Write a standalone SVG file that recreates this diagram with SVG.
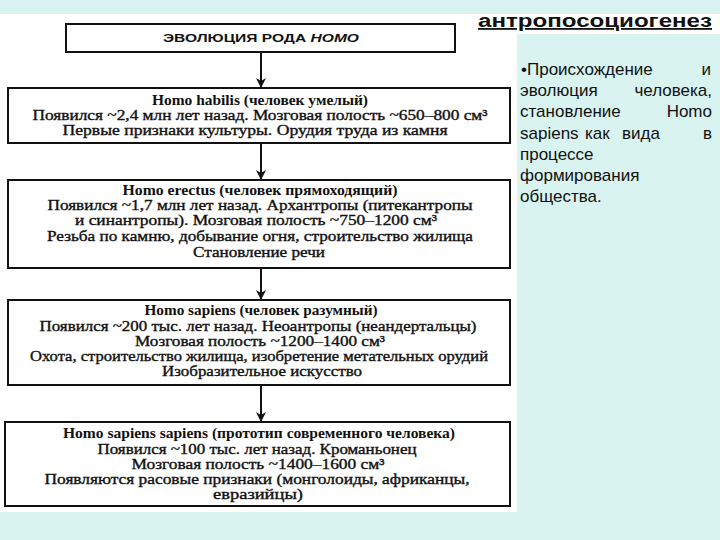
<svg xmlns="http://www.w3.org/2000/svg" width="720" height="540" viewBox="0 0 720 540">
<style>
.box{fill:#fff;stroke:#111;stroke-width:2}
.t{font-family:"Liberation Serif","Times New Roman",serif;font-size:14px;fill:#111;text-anchor:middle}
.h{font-weight:bold}
.b{stroke:#111;stroke-width:0.35}
.edge{stroke:#111;stroke-width:2;fill:none}
.side{font-family:"Liberation Sans",Arial,sans-serif;fill:#111;font-size:17px}
</style>
<defs>
<marker id="ah" viewBox="0 0 10 10" refX="9" refY="5" markerWidth="5" markerHeight="5" orient="auto" markerUnits="strokeWidth">
<path d="M0,0 L10,5 L0,10 L3,5 z" fill="#111"/>
</marker>
</defs>
<rect x="0" y="0" width="720" height="540" fill="#d8f3f0"/>
<rect x="0" y="14" width="517" height="498" fill="#ffffff"/>
<rect x="517" y="14" width="203" height="20" fill="#ffffff"/>

<g id="connectors">
<line class="edge" x1="261" y1="52" x2="261" y2="87" marker-end="url(#ah)"/>
<line class="edge" x1="261" y1="143" x2="261" y2="179" marker-end="url(#ah)"/>
<line class="edge" x1="261" y1="268" x2="261" y2="299" marker-end="url(#ah)"/>
<line class="edge" x1="261" y1="385" x2="261" y2="421" marker-end="url(#ah)"/>
</g>

<g id="title">
<rect class="box" x="66" y="24" width="389" height="28"/>
<text x="261" y="42" font-family="Liberation Sans,Arial,sans-serif" font-size="11.5" font-weight="bold" text-anchor="middle" fill="#111" textLength="196" lengthAdjust="spacingAndGlyphs">ЭВОЛЮЦИЯ РОДА <tspan font-style="italic">HOMO</tspan></text>
</g>

<g id="habilis">
<rect class="box" x="8" y="88" width="502" height="55"/>
<text class="t h" x="260" y="105" textLength="216" lengthAdjust="spacingAndGlyphs">Homo habilis (человек умелый)</text>
<text class="t b" x="260" y="120" textLength="455" lengthAdjust="spacingAndGlyphs">Появился ~2,4 млн лет назад. Мозговая полость ~650–800 см³</text>
<text class="t b" x="255" y="135" textLength="385" lengthAdjust="spacingAndGlyphs">Первые признаки культуры. Орудия труда из камня</text>
</g>

<g id="erectus">
<rect class="box" x="8" y="180" width="502" height="88"/>
<text class="t h" x="260" y="195" textLength="275" lengthAdjust="spacingAndGlyphs">Homo erectus (человек прямоходящий)</text>
<text class="t b" x="260" y="210" textLength="425" lengthAdjust="spacingAndGlyphs">Появился ~1,7 млн лет назад. Архантропы (питекантропы</text>
<text class="t b" x="256" y="225" textLength="362" lengthAdjust="spacingAndGlyphs">и синантропы). Мозговая полость ~750–1200 см³</text>
<text class="t b" x="260" y="241" textLength="426" lengthAdjust="spacingAndGlyphs">Резьба по камню, добывание огня, строительство жилища</text>
<text class="t b" x="259" y="257" textLength="132" lengthAdjust="spacingAndGlyphs">Становление речи</text>
</g>

<g id="sapiens">
<rect class="box" x="8" y="300" width="502" height="85"/>
<text class="t h" x="261" y="315" textLength="233" lengthAdjust="spacingAndGlyphs">Homo sapiens (человек разумный)</text>
<text class="t b" x="258" y="331" textLength="437" lengthAdjust="spacingAndGlyphs">Появился ~200 тыс. лет назад. Неоантропы (неандертальцы)</text>
<text class="t b" x="260" y="346" textLength="250" lengthAdjust="spacingAndGlyphs">Мозговая полость ~1200–1400 см³</text>
<text class="t b" x="259" y="361" textLength="458" lengthAdjust="spacingAndGlyphs">Охота, строительство жилища, изобретение метательных орудий</text>
<text class="t b" x="262" y="376" textLength="200" lengthAdjust="spacingAndGlyphs">Изобразительное искусство</text>
</g>

<g id="sapiens-sapiens">
<rect class="box" x="5" y="422" width="505" height="84"/>
<text class="t h" x="259" y="438" textLength="392" lengthAdjust="spacingAndGlyphs">Homo sapiens sapiens (прототип современного человека)</text>
<text class="t b" x="257" y="454" textLength="319" lengthAdjust="spacingAndGlyphs">Появился ~100 тыс. лет назад. Кроманьонец</text>
<text class="t b" x="258" y="469" textLength="253" lengthAdjust="spacingAndGlyphs">Мозговая полость ~1400–1600 см³</text>
<text class="t b" x="257" y="484" textLength="425" lengthAdjust="spacingAndGlyphs">Появляются расовые признаки (монголоиды, африканцы,</text>
<text class="t b" x="258" y="499" textLength="90" lengthAdjust="spacingAndGlyphs">евразийцы)</text>
</g>

<g id="side-text">
<text x="478" y="27" font-family="Liberation Sans,Arial,sans-serif" font-size="18" font-weight="bold" fill="#111" text-decoration="underline" textLength="234" lengthAdjust="spacingAndGlyphs">антропосоциогенез</text>
<text class="side" x="521" y="75">•Происхождение</text>
<text class="side" x="711" y="75" text-anchor="end">и</text>
<text class="side" x="520" y="96">эволюция</text>
<text class="side" x="712" y="96" text-anchor="end">человека,</text>
<text class="side" x="520" y="117">становление</text>
<text class="side" x="712" y="117" text-anchor="end">Homo</text>
<text class="side" x="520" y="139">sapiens</text>
<text class="side" x="585" y="139">как</text>
<text class="side" x="622" y="139">вида</text>
<text class="side" x="712" y="139" text-anchor="end">в</text>
<text class="side" x="520" y="160">процессе</text>
<text class="side" x="520" y="181">формирования</text>
<text class="side" x="520" y="202">общества.</text>
</g>
</svg>
